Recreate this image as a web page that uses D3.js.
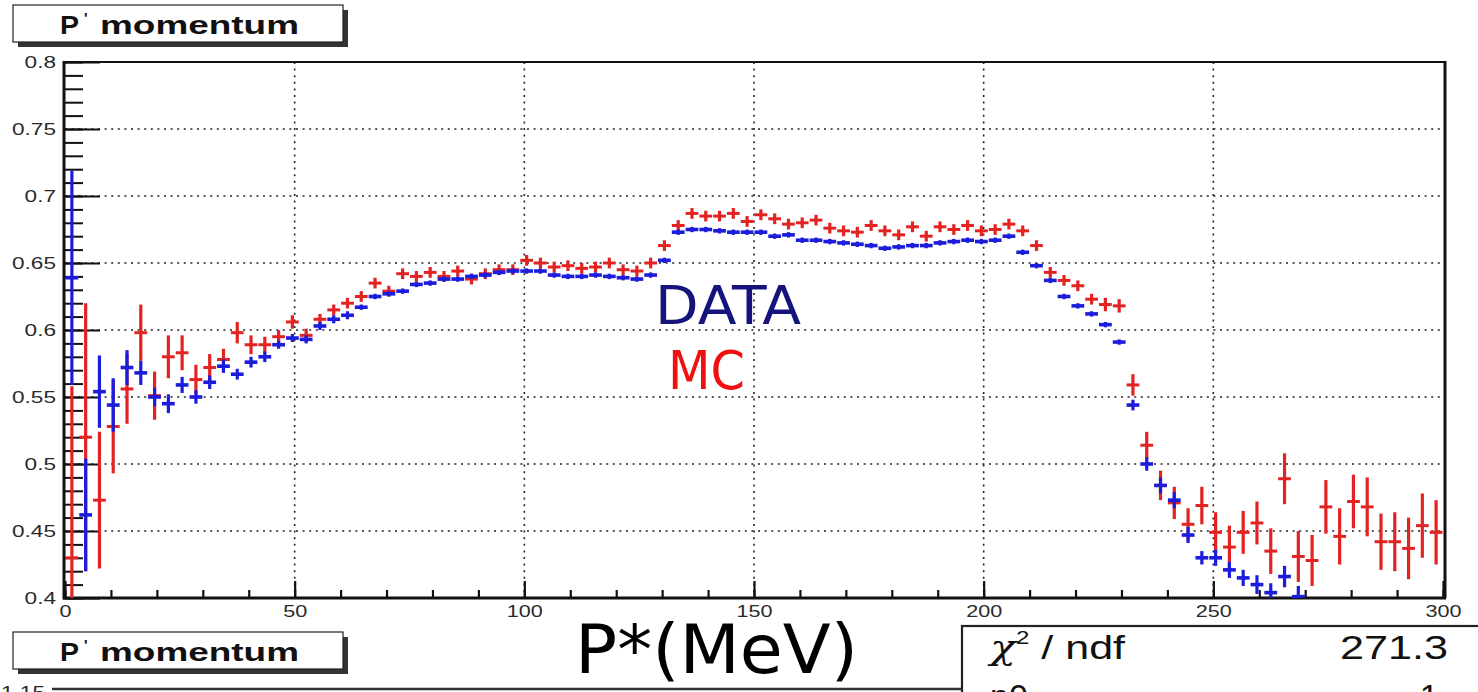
<!DOCTYPE html>
<html>
<head>
<meta charset="utf-8">
<script src="https://cdn.jsdelivr.net/npm/d3@7"></script>
<style>
  html, body { margin: 0; padding: 0; background: #fff; }
  svg { display: block; }
</style>
</head>
<body>
<svg id="chart" width="1478" height="692"></svg>
<script>
// Histogram binning: 100 bins of 3 MeV from 0 to 300
const binEdges = d3.range(0, 301, 3);

// DATA (blue) bin contents and errors; bins below the frame are null
const dataVal = [
  0.639,0.462,0.554,0.544,0.572,0.568,0.550,0.545,0.559,0.550,
  0.561,0.573,0.567,0.576,0.580,0.589,0.594,0.593,0.603,0.608,
  0.611,0.617,0.625,0.627,0.629,0.634,0.635,0.638,0.638,0.640,
  0.641,0.643,0.644,0.644,0.644,0.641,0.640,0.640,0.641,0.640,
  0.639,0.638,0.641,0.652,0.673,0.675,0.675,0.674,0.673,0.673,
  0.673,0.670,0.671,0.667,0.667,0.666,0.665,0.664,0.663,0.661,
  0.662,0.663,0.663,0.665,0.666,0.667,0.666,0.667,0.670,0.658,
  0.648,0.637,0.625,0.618,0.612,0.604,0.591,0.544,0.500,0.484,
  0.473,0.447,0.430,0.430,0.421,0.415,0.410,0.404,0.416,0.401,
  null,null,null,null,null,null,null,null,null,null
];
const dataErr = [
  0.080,0.042,0.027,0.020,0.013,0.009,0.007,0.007,0.006,0.005,
  0.005,0.005,0.004,0.004,0.004,0.003,0.003,0.003,0.003,0.003,
  0.003,0.002,0.002,0.002,0.002,0.002,0.002,0.002,0.002,0.002,
  0.002,0.002,0.002,0.002,0.002,0.002,0.002,0.002,0.002,0.002,
  0.002,0.002,0.002,0.002,0.002,0.002,0.002,0.002,0.002,0.002,
  0.002,0.002,0.002,0.002,0.002,0.002,0.002,0.002,0.002,0.002,
  0.002,0.002,0.002,0.002,0.002,0.002,0.002,0.002,0.002,0.002,
  0.002,0.002,0.002,0.002,0.002,0.002,0.002,0.004,0.005,0.006,
  0.006,0.006,0.005,0.006,0.006,0.006,0.007,0.007,0.008,0.008,
  null,null,null,null,null,null,null,null,null,null
];

// MC (red) bin contents and errors
const mcVal = [
  0.430,0.520,0.473,0.528,0.556,0.598,0.551,0.580,0.583,0.563,
  0.572,0.578,0.598,0.589,0.589,0.595,0.606,0.596,0.608,0.615,
  0.620,0.625,0.635,0.629,0.642,0.640,0.643,0.640,0.644,0.638,
  0.642,0.645,0.645,0.652,0.650,0.647,0.648,0.646,0.647,0.650,
  0.645,0.644,0.650,0.663,0.678,0.687,0.685,0.685,0.687,0.681,
  0.686,0.683,0.679,0.680,0.682,0.676,0.674,0.673,0.678,0.674,
  0.671,0.677,0.670,0.677,0.675,0.678,0.674,0.675,0.679,0.674,
  0.663,0.643,0.637,0.633,0.623,0.619,0.618,0.559,0.514,0.484,
  0.471,0.455,0.469,0.449,0.438,0.449,0.456,0.435,0.489,0.431,
  0.428,0.468,0.446,0.472,0.468,0.442,0.442,0.437,0.454,0.449
];
const mcErr = [
  0.128,0.100,0.051,0.035,0.026,0.021,0.018,0.016,0.013,0.011,
  0.010,0.008,0.008,0.007,0.006,0.005,0.005,0.005,0.004,0.004,
  0.004,0.004,0.004,0.004,0.004,0.004,0.004,0.004,0.004,0.004,
  0.004,0.004,0.004,0.004,0.004,0.004,0.004,0.004,0.004,0.004,
  0.004,0.004,0.004,0.004,0.004,0.004,0.004,0.004,0.004,0.004,
  0.004,0.004,0.004,0.004,0.004,0.004,0.004,0.004,0.004,0.004,
  0.004,0.004,0.004,0.004,0.004,0.004,0.004,0.004,0.004,0.004,
  0.004,0.004,0.004,0.004,0.004,0.005,0.005,0.008,0.010,0.011,
  0.012,0.012,0.014,0.015,0.016,0.016,0.016,0.017,0.019,0.019,
  0.019,0.020,0.021,0.020,0.022,0.021,0.022,0.023,0.024,0.024
];

// Axis ticks and labels
const yMajor = [0.4, 0.45, 0.5, 0.55, 0.6, 0.65, 0.7, 0.75, 0.8];
const yLabels = ["0.4", "0.45", "0.5", "0.55", "0.6", "0.65", "0.7", "0.75", "0.8"];
const yMinor = d3.range(40, 81).map(v => v / 100);
const xMajor = [0, 50, 100, 150, 200, 250, 300];
const xMinor = d3.range(0, 301, 10);

const histTitle = "momentum";
const xTitle = "P*(MeV)";
const dataLabel = "DATA";
const mcLabel = "MC";
const statsRows = [["/ ndf", "271.3"], ["p0", "1."]];

const RED = "#e32222";
const BLUE = "#1c1cdc";

const svg = d3.select("#chart");

// Frame geometry
const fLeft = 65, fRight = 1443, fTop = 62, fBottom = 598;
const x = d3.scaleLinear().domain([0, 300]).range([fLeft, fRight]);
const y = d3.scaleLinear().domain([0.4, 0.8]).range([fBottom, fTop]);

svg.append("defs").append("clipPath").attr("id", "frame")
  .append("rect").attr("x", fLeft).attr("y", fTop)
  .attr("width", fRight - fLeft + 2).attr("height", fBottom - fTop);

// Title box with drop shadow
function titleBox(y0) {
  const g = svg.append("g");
  g.append("rect").attr("x", 18).attr("y", y0 + 5).attr("width", 330).attr("height", 37).attr("fill", "#333");
  g.append("rect").attr("x", 13).attr("y", y0).attr("width", 330).attr("height", 37)
    .attr("fill", "#fff").attr("stroke", "#222").attr("stroke-width", 1.2);
  g.append("text").attr("x", 60).attr("y", y0 + 29)
    .attr("font-family", "Liberation Sans, Arial, sans-serif").attr("font-weight", "bold")
    .attr("font-size", 25).attr("textLength", 19).attr("lengthAdjust", "spacingAndGlyphs")
    .attr("fill", "#111").text("P");
  g.append("text").attr("x", 84).attr("y", y0 + 18)
    .attr("font-family", "Liberation Sans, Arial, sans-serif").attr("font-weight", "bold")
    .attr("font-size", 15).attr("fill", "#111").text("'");
  g.append("text").attr("x", 100).attr("y", y0 + 29)
    .attr("font-family", "Liberation Sans, Arial, sans-serif").attr("font-weight", "bold")
    .attr("font-size", 25).attr("textLength", 199).attr("lengthAdjust", "spacingAndGlyphs")
    .attr("fill", "#111").text(histTitle);
}
titleBox(5);

// Dotted grid
const grid = svg.append("g").attr("stroke", "#222").attr("stroke-width", 1.6)
  .attr("stroke-dasharray", "2,4.6");
grid.selectAll("line.gx").data(xMajor.filter(d => d > 0 && d < 300)).join("line")
  .attr("x1", d => x(d)).attr("x2", d => x(d)).attr("y1", fTop).attr("y2", fBottom);
grid.selectAll("line.gy").data(yMajor.filter(d => d > 0.4 && d < 0.8)).join("line")
  .attr("x1", fLeft).attr("x2", fRight).attr("y1", d => y(d)).attr("y2", d => y(d));

// Frame top and right border
svg.append("line").attr("x1", fLeft).attr("x2", fRight + 2).attr("y1", fTop).attr("y2", fTop)
  .attr("stroke", "#111").attr("stroke-width", 2);
svg.append("line").attr("x1", fRight + 2).attr("x2", fRight + 2).attr("y1", fTop - 1).attr("y2", fBottom)
  .attr("stroke", "#111").attr("stroke-width", 3);

// Y axis: inward ticks, labels on the left
const yAxisMinor = d3.axisLeft(y).tickValues(yMinor).tickSize(-18).tickFormat("");
const yAxisMajor = d3.axisLeft(y).tickValues(yMajor).tickSize(-35).tickPadding(0)
  .tickFormat((d, i) => yLabels[i]);
const gyMinor = svg.append("g").attr("transform", `translate(${fLeft},0)`).call(yAxisMinor);
const gyMajor = svg.append("g").attr("transform", `translate(${fLeft},0)`).call(yAxisMajor);
[gyMinor, gyMajor].forEach(g => {
  g.select(".domain").remove();
  g.selectAll(".tick line").attr("stroke", "#111").attr("stroke-width", 2);
});
gyMajor.selectAll(".tick text")
  .attr("font-family", "Liberation Sans, Arial, sans-serif").attr("font-size", 17)
  .attr("fill", "#2a2a2a").attr("dy", "0.35em")
  .attr("x", -9 / 1.33).attr("transform", "scale(1.33,1)");

// X axis: inward ticks, labels below
const xAxisMinor = d3.axisBottom(x).tickValues(xMinor).tickSize(-8).tickFormat("");
const xAxisMajor = d3.axisBottom(x).tickValues(xMajor).tickSize(-17).tickPadding(0)
  .tickFormat(d => String(d));
const gxMinor = svg.append("g").attr("transform", `translate(0,${fBottom})`).call(xAxisMinor);
const gxMajor = svg.append("g").attr("transform", `translate(0,${fBottom})`).call(xAxisMajor);
[gxMinor, gxMajor].forEach(g => {
  g.select(".domain").remove();
  g.selectAll(".tick line").attr("stroke", "#111").attr("stroke-width", 2.2);
});
gxMajor.selectAll(".tick text")
  .attr("font-family", "Liberation Sans, Arial, sans-serif").attr("font-size", 16)
  .attr("fill", "#2a2a2a").attr("dy", 0).attr("y", 19)
  .attr("transform", "scale(1.35,1)");

// Axis lines
svg.append("line").attr("x1", fLeft - 1).attr("x2", fLeft - 1).attr("y1", fTop - 1).attr("y2", fBottom + 1.5)
  .attr("stroke", "#111").attr("stroke-width", 3);
svg.append("line").attr("x1", fLeft - 2).attr("x2", fRight + 3).attr("y1", fBottom).attr("y2", fBottom)
  .attr("stroke", "#111").attr("stroke-width", 3);

// Error-bar histograms
function series(vals, errs, color, markerHalf, hWidth) {
  const pts = vals.map((v, i) => ({ v, e: errs[i], lo: binEdges[i], hi: binEdges[i + 1] }))
    .filter(d => d.v !== null);
  const g = svg.append("g").attr("clip-path", "url(#frame)").attr("stroke", color);
  g.selectAll("line.h").data(pts).join("line")
    .attr("x1", d => x(d.lo) + 0.5).attr("x2", d => x(d.hi) - 0.5)
    .attr("y1", d => y(d.v)).attr("y2", d => y(d.v))
    .attr("stroke-width", hWidth);
  g.selectAll("line.v").data(pts).join("line")
    .attr("x1", d => x((d.lo + d.hi) / 2)).attr("x2", d => x((d.lo + d.hi) / 2))
    .attr("y1", d => Math.min(y(d.v + d.e), y(d.v) - markerHalf))
    .attr("y2", d => Math.max(y(d.v - d.e), y(d.v) + markerHalf))
    .attr("stroke-width", 3.2);
}
series(mcVal, mcErr, RED, 4.5, 3);
series(dataVal, dataErr, BLUE, 0, 3.6);

// Series labels
svg.append("text").attr("x", 655).attr("y", 324)
  .attr("font-family", "DejaVu Sans, sans-serif").attr("font-size", 54)
  .attr("textLength", 146).attr("lengthAdjust", "spacingAndGlyphs")
  .attr("fill", "#14147c").text(dataLabel);
svg.append("text").attr("x", 668).attr("y", 389)
  .attr("font-family", "DejaVu Sans, sans-serif").attr("font-size", 54)
  .attr("textLength", 77).attr("lengthAdjust", "spacingAndGlyphs")
  .attr("fill", "#f01010").text(mcLabel);

// Lower panel: title box, frame top edge and first label
titleBox(632);
svg.append("line").attr("x1", 52).attr("x2", 962).attr("y1", 689).attr("y2", 689)
  .attr("stroke", "#333").attr("stroke-width", 2.5);
svg.append("text").attr("x", 45 / 1.33).attr("y", 698).attr("text-anchor", "end")
  .attr("transform", "scale(1.33,1)")
  .attr("font-family", "Liberation Sans, Arial, sans-serif").attr("font-size", 17)
  .attr("fill", "#2a2a2a").text("1.15");

// Axis title
svg.append("text").attr("x", 575).attr("y", 673)
  .attr("font-family", "DejaVu Sans, sans-serif").attr("font-size", 68)
  .attr("textLength", 283).attr("lengthAdjust", "spacingAndGlyphs")
  .attr("fill", "#000").text(xTitle);

// Fit statistics box
const stats = svg.append("g");
stats.append("rect").attr("x", 962).attr("y", 626).attr("width", 530).attr("height", 90)
  .attr("fill", "#fff").attr("stroke", "#222").attr("stroke-width", 2.2);
const chi = stats.append("text").attr("x", 990).attr("y", 659)
  .attr("font-family", "Liberation Sans, Arial, sans-serif").attr("font-size", 34).attr("fill", "#111")
  .attr("textLength", 135).attr("lengthAdjust", "spacingAndGlyphs");
chi.append("tspan").attr("font-family", "DejaVu Serif, serif").attr("font-style", "italic").text("\u03C7");
chi.append("tspan").attr("font-size", 19).attr("dy", -15).text("2");
chi.append("tspan").attr("dy", 15).text(" " + statsRows[0][0]);
stats.append("text").attr("x", 1448).attr("y", 659).attr("text-anchor", "end")
  .attr("font-family", "Liberation Sans, Arial, sans-serif").attr("font-size", 34)
  .attr("textLength", 108).attr("lengthAdjust", "spacingAndGlyphs")
  .attr("fill", "#111").text(statsRows[0][1]);
stats.append("text").attr("x", 990).attr("y", 708)
  .attr("font-family", "Liberation Sans, Arial, sans-serif").attr("font-size", 34)
  .attr("fill", "#111").text(statsRows[1][0]);
stats.append("text").attr("x", 1448).attr("y", 708).attr("text-anchor", "end")
  .attr("font-family", "Liberation Sans, Arial, sans-serif").attr("font-size", 34)
  .attr("fill", "#111").text(statsRows[1][1]);
</script>
</body>
</html>
